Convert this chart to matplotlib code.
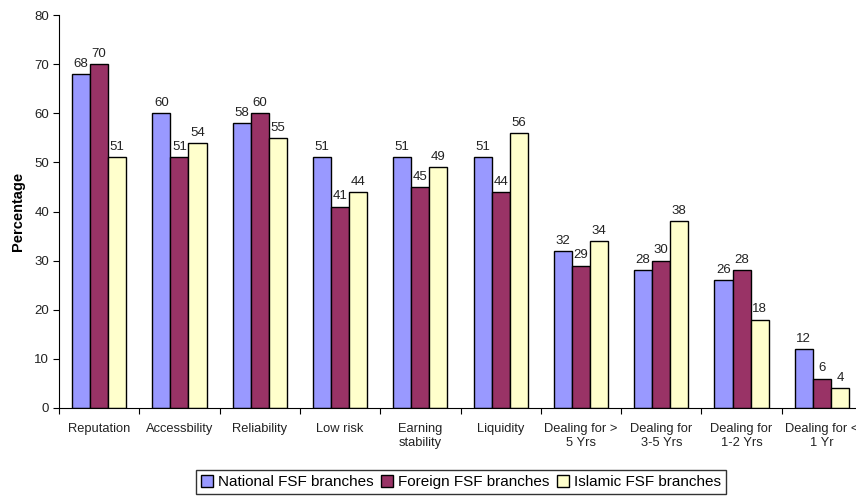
import matplotlib
matplotlib.use("Agg")
import matplotlib.pyplot as plt
import numpy as np

plt.rcParams['font.family'] = ['Liberation Sans', 'DejaVu Sans']

categories = ["Reputation", "Accessbility", "Reliability", "Low risk", "Earning\nstability",
              "Liquidity", "Dealing for >\n5 Yrs", "Dealing for\n3-5 Yrs", "Dealing for\n1-2 Yrs",
              "Dealing for <\n1 Yr"]
national = [68, 60, 58, 51, 51, 51, 32, 28, 26, 12]
foreign = [70, 51, 60, 41, 45, 44, 29, 30, 28, 6]
islamic = [51, 54, 55, 44, 49, 56, 34, 38, 18, 4]
series_names = ["National FSF branches", "Foreign FSF branches", "Islamic FSF branches"]
colors = ["#9999FF", "#993366", "#FFFFCC"]

fig = plt.figure(figsize=(8.56, 4.97), dpi=100)
ax = fig.add_axes([59/856, 89/497, 803/856, 393/497])

x = np.arange(len(categories))
w = 0.225
for i, (vals, name, c) in enumerate(zip([national, foreign, islamic], series_names, colors)):
    bars = ax.bar(x + (i - 1) * w, vals, w, color=c, edgecolor="black", linewidth=1.0, label=name, zorder=2)
    for b, v in zip(bars, vals):
        ax.annotate(f"{v}", (b.get_x() + b.get_width() / 2, v), xytext=(0, 3),
                    textcoords="offset points", ha="center", va="bottom", fontsize=9.5, color="#222222")

ax.set_xlim(-0.5, len(categories) - 0.5)
ax.set_ylim(0, 80)
ax.set_yticks(range(0, 81, 10))
ax.tick_params(axis="y", labelsize=9.5, length=4, width=0.8, direction="out", pad=3,
               labelcolor="#222222")

# category boundaries carry the tick marks; names sit at the centres
ax.set_xticks(np.arange(-0.5, len(categories), 1.0))
ax.set_xticklabels([])
ax.set_xticks(x, minor=True)
ax.set_xticklabels(categories, minor=True, fontsize=9.3, color="#222222")
ax.tick_params(axis="x", which="major", length=4, width=0.8, direction="out")
ax.tick_params(axis="x", which="minor", length=0, pad=11)

for s in ["top", "right"]:
    ax.spines[s].set_visible(False)
for s in ["left", "bottom"]:
    ax.spines[s].set_linewidth(0.8)

ax.set_ylabel("Percentage", fontsize=10.5, fontweight="bold", labelpad=7)

fig.legend(loc="center", bbox_to_anchor=(461/856, 1 - 482/497), ncol=3, frameon=True,
           fancybox=False, edgecolor="black", fontsize=11,
           handlelength=0.8, handleheight=0.8,
           handletextpad=0.3, columnspacing=0.5, borderpad=0.35, borderaxespad=0)

fig.savefig("out.png", dpi=100)
